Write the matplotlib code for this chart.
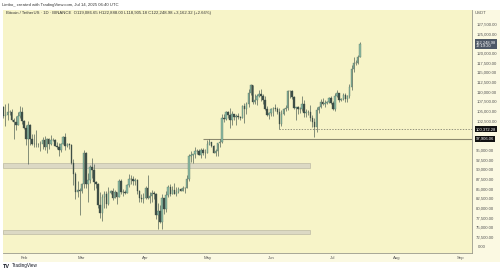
import pandas as pd
import numpy as np
import matplotlib.pyplot as plt
import matplotlib.dates as mdates
from matplotlib.patches import Rectangle
from matplotlib.transforms import blended_transform_factory

plt.rcParams['font.family'] = ['Liberation Sans', 'DejaVu Sans']

###### daily BTCUSDT candles, 2025-01-21 .. 2025-07-14 ######
first_open = 102260
closes = [106144, 103706, 103910, 104870, 104714, 102682, 102087, 101332, 103733, 104722, 102429,
          100635, 97700, 101328, 97763, 96612, 96554, 96506, 96444, 96462, 97430, 95778, 97870, 96608, 97500,
          97569, 96118, 95780, 95041, 96551, 98333, 96125, 96577, 96273, 91552, 88680, 84250, 84708, 84349,
          86064, 94270, 86220, 87281, 90607, 89931, 86802, 86222, 80734, 78595, 82932, 83680, 81066, 83969,
          84343, 82580, 84075, 82718, 86854, 84167, 84043, 83832, 86054, 87499, 87391, 86909, 87232, 84424,
          82648, 82389, 82550,
          85158, 82516, 83103, 83844, 83504, 78214, 79235, 76271, 82573, 79626, 83404, 85287, 83684, 84542,
          83668, 84033, 84895, 84450, 85063, 85174, 87518, 93441, 93699, 93943, 94720, 94646, 93754, 94978,
          94284, 94207,
          96492, 96910, 95891, 94315, 94748, 96802, 97032, 103241, 102970, 104696, 104106, 102812, 104169,
          103539, 103744, 103489, 103191, 106430, 105606, 106791, 109678, 111673, 107287, 107791, 109035,
          109440, 108994, 107802, 105641, 103998, 104638,
          105652, 105882, 105432, 104731, 101575, 104390, 105615, 105793, 110295, 110257, 108686, 105929,
          106090, 105472, 105553, 106794, 104551, 104886, 104658, 103297, 102120, 100963, 105333, 106083,
          107340, 106947, 107047, 107296, 108356, 107147,
          105681, 108849, 109584, 107984, 108199, 109203, 108262, 108922, 111233, 115987, 117516, 117435,
          119086.65, 122248.98]
highs = [107240, 106394, 106850, 107120, 105286, 105500, 103220, 103783, 104782, 106457, 106012,
         102783, 101456, 102500, 101730, 99000, 99197, 100137, 96880, 97323, 98345, 98500, 98119, 98080, 98826,
         97972, 97732, 97040, 96753, 96899, 98711, 99475, 96900, 96670, 96503, 92540, 89286, 87000, 85120,
         86558, 95000, 94416, 88912, 91000, 92810, 91224, 86847, 86500, 84123, 83617, 84359, 84300, 85309,
         84673, 85051, 84725, 84100, 87453, 87443, 84850, 84539, 86129, 88765, 88542, 88292, 87786, 87515,
         84567, 83534, 83943,
         85579, 88500, 83998, 84720, 84266, 83763, 81243, 80867, 83588, 82700, 84300, 85905, 86100, 85785,
         86496, 85500, 85470, 85098, 85597, 85320, 88465, 93888, 94696, 94000, 95768, 95127, 95336, 95600,
         95461, 95200,
         97437, 97895, 96920, 96318, 95199, 96889, 97732, 104145, 104361, 104984, 104937, 105819, 104976,
         104300, 104192, 104550, 103709, 106660, 107108, 107320, 110797, 111980, 111800, 109500, 109313,
         110422, 110718, 109310, 108910, 106313, 104886,
         105882, 105983, 106794, 105997, 105909, 105333, 105900, 106488, 110530, 110400, 110400, 108800,
         106182, 106214, 106128, 108952, 107771, 105550, 105226, 106524, 104000, 103128, 106128, 106290,
         108135, 108272, 107750, 107599, 108531, 108789,
         107540, 109700, 110529, 109767, 108450, 109740, 109700, 109216, 111999, 116868, 118869, 118200,
         119488, 122888]
lows = [100120, 103339, 101262, 102750, 104106, 102520, 97777, 100233, 101328, 103300, 101560,
        100279, 96150, 91231, 96150, 96150, 95676, 95620, 95688, 94713, 95256, 94850, 94088, 95200, 96252,
        97223, 96055, 95205, 93388, 94435, 96415, 94871, 95770, 95270, 91371, 86050, 82256, 82786, 78258,
        83824, 85050, 85117, 81529, 86334, 87852, 84667, 85247, 80000, 77459, 76606, 79939, 79931, 80818,
        83635, 82017, 82492, 81134, 82715, 83647, 83175, 83646, 83790, 85519, 86300, 85860, 85837, 83585,
        81644, 81565, 81278,
        82432, 82320, 81211, 81659, 82379, 77153, 74508, 76239, 74620, 78456, 78936, 82792, 83034, 83690,
        83600, 83111, 83736, 84303, 84353, 83949, 85144, 87076, 91935, 91660, 92800, 93870, 93600, 92800,
        93720, 92910,
        94153, 96350, 95700, 94172, 93514, 93377, 95800, 96876, 102315, 102818, 103346, 100718, 101429,
        102602, 101383, 103100, 102612, 103105, 102000, 104184, 106100, 109285, 106800, 106892, 106600,
        108670, 107537, 106812, 105323, 103621, 103068,
        103863, 103700, 105100, 104201, 100372.28, 101095, 103983, 105078, 105340, 108355, 108100, 105671,
        102664, 104300, 104494, 104980, 103371, 103500, 103929, 102345, 100837, 98200, 99588, 104622,
        105800, 106562, 106140, 106800, 107200, 106733,
        105250, 105100, 108530, 107245, 107520, 107800, 107400, 107430, 108352, 110585, 115222, 116900,
        117224, 118905.18]
opens = [first_open] + closes[:-1]
dates = pd.date_range('2025-01-21', periods=len(closes), freq='D')

# price scale labels
price_ticks = [127500, 125000, 120000, 117500, 115000, 112500, 110000, 107500, 105000, 102500,
               95000, 92500, 90000, 87500, 85000, 82500, 80000, 77500, 75000, 72500]
last_price = 122248.98
level_dotted = 100372.28
level_solid = 97906.06
zone_upper = (90440, 91640)
zone_lower = (73280, 74310)

W, H = 500, 273
fig = plt.figure(figsize=(W / 100, H / 100), dpi=100)
fig.patch.set_facecolor('white')
# whole chart panel (incl. scales)
fig.patches.append(Rectangle((3 / W, 1 - 262 / H), 497 / W, 252 / H, transform=fig.transFigure,
                             facecolor='#fbf9e2', edgecolor='none', zorder=-5))

ax = fig.add_axes([3 / W, 1 - 253 / H, 469 / W, 243 / H])
ax.set_facecolor('#f7f4c8')

x = mdates.date2num(dates)
opens = np.array(opens, dtype=float)
closes_a = np.array(closes, dtype=float)
up = closes_a >= opens

######## candles ######
ax.vlines(x, lows, highs, color='#43554c', lw=0.45, zorder=3)
body_lo = np.minimum(opens, closes_a)
body_h = np.maximum(np.abs(closes_a - opens), 60)
ax.bar(x[up], body_h[up], bottom=body_lo[up], width=0.72, color='#8cbaa2',
       edgecolor='#4f7363', linewidth=0.25, zorder=4)
ax.bar(x[~up], body_h[~up], bottom=body_lo[~up], width=0.72, color='#3e4e46',
       edgecolor='#3e4e46', linewidth=0.25, zorder=4)

feb1 = mdates.date2num(pd.Timestamp('2025-02-01'))
px_day = 2.06
x0 = feb1 - 21 / px_day
x1 = feb1 + 448 / px_day
ax.set_xlim(x0, x1)
ax.set_ylim(68373, 131115)

######## zones and levels ######
zone_end = mdates.date2num(pd.Timestamp('2025-06-20'))
for lo, hi in (zone_upper, zone_lower):
    ax.add_patch(Rectangle((x0, lo), zone_end - x0, hi - lo, facecolor='#dcd9c4',
                           edgecolor='#bdbaa4', lw=0.5, zorder=2))
ax.hlines(level_solid, mdates.date2num(pd.Timestamp('2025-04-29')), x1, color='#8b896f', lw=0.8, zorder=2)
ax.hlines(level_dotted, mdates.date2num(pd.Timestamp('2025-06-05')), x1, color='#6d6d60', lw=0.5,
          linestyles=(0, (2, 2)), zorder=2)

######## axes ######
for s in ['top', 'left']:
    ax.spines[s].set_visible(False)
for s in ['right', 'bottom']:
    ax.spines[s].set_color('#9a9a8a')
    ax.spines[s].set_linewidth(0.6)

ax.yaxis.tick_right()
ax.set_yticks(price_ticks)
ax.set_yticklabels(['{:,.2f}'.format(t) for t in price_ticks])
ax.tick_params(axis='y', length=0, pad=3, labelsize=3.1, labelcolor='#555555')
ax.xaxis.set_major_locator(mdates.MonthLocator())
ax.xaxis.set_major_formatter(mdates.DateFormatter('%b'))
ax.tick_params(axis='x', length=0, pad=2.5, labelsize=3.1, labelcolor='#555555')

tr = blended_transform_factory(ax.transAxes, ax.transData)
ax.text(1.008, last_price, '122,248.98\n17:19:20', transform=tr, fontsize=2.9, color='white',
        va='center', ha='left', linespacing=1.0,
        bbox=dict(boxstyle='square,pad=0.25', fc='#4e5866', ec='none'))
ax.text(1.008, level_dotted, '100,372.28', transform=tr, fontsize=3.0, color='white', va='center', ha='left',
        bbox=dict(boxstyle='square,pad=0.25', fc='#111111', ec='none'))
ax.text(1.008, level_solid, '97,906.06', transform=tr, fontsize=3.0, color='white', va='center', ha='left',
        bbox=dict(boxstyle='square,pad=0.25', fc='#111111', ec='none'))
ax.text(1.013, 69920, '0.00', transform=tr, fontsize=3.1, color='#555555', va='center', ha='left')

fig.text(475 / W, 1 - 13 / H, 'USDT', fontsize=3.1, color='#555555', va='center')
fig.text(2 / W, 1 - 5 / H, 'Limbo_ created with TradingView.com, Jul 14, 2025 06:40 UTC',
         fontsize=3.1, color='#333333', va='center')
fig.text(6 / W, 1 - 13 / H,
         'Bitcoin / TetherUS \u00b7 1D \u00b7 BINANCE  O119,086.65 H122,888.00 L118,905.18 '
         'C122,248.98 +3,162.32 (+2.66%)', fontsize=3.1, color='#333333', va='center')
fig.text(3 / W, 1 - 266 / H, 'TV', fontsize=4, weight='bold', color='#131722', va='center')
fig.text(12 / W, 1 - 266 / H, 'TradingView', fontsize=3.3, color='#131722', va='center')

plt.savefig('out.png', dpi=100, facecolor=fig.get_facecolor())
